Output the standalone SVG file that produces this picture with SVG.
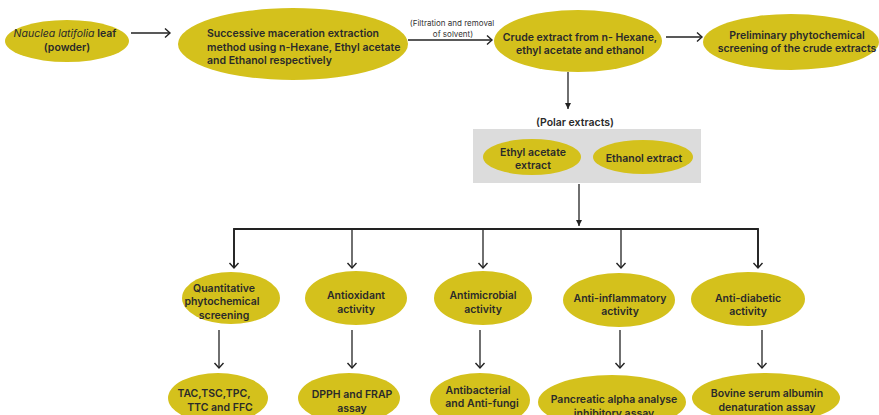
<svg xmlns="http://www.w3.org/2000/svg" width="879" height="415" viewBox="0 0 879 415">
<defs>
<marker id="chev" markerWidth="12" markerHeight="12" refX="6" refY="6" orient="auto" markerUnits="userSpaceOnUse">
<path d="M1,1.5 L6,6 L1,10.5" fill="none" stroke="#222" stroke-width="1.4"/>
</marker>
<marker id="tri" markerWidth="8" markerHeight="8" refX="6" refY="4" orient="auto" markerUnits="userSpaceOnUse">
<path d="M0,1 L6,4 L0,7 Z" fill="#222"/>
</marker>
</defs>
<style>
.n{fill:#D4C11C;}
.t{font-family:Inter,"Liberation Sans",sans-serif;font-size:10.5px;font-weight:600;fill:#2a2a2a;text-anchor:middle;}
.s{font-family:Inter,"Liberation Sans",sans-serif;font-size:8px;font-weight:400;fill:#333;text-anchor:middle;}
.c{fill:none;stroke:#222;stroke-width:1.3;}
.a{marker-end:url(#chev);}
.f{marker-end:url(#tri);}
</style>
<rect width="879" height="415" fill="#fff"/>
<g id="connectors">
<line class="c a" x1="131" y1="33" x2="170" y2="33"/>
<line class="c a" x1="408" y1="40" x2="492" y2="40"/>
<line class="c a" x1="666" y1="37" x2="702" y2="37"/>
<line class="c f" x1="568" y1="72" x2="568" y2="109"/>
<line class="c f" x1="579" y1="184" x2="579" y2="226"/>
<polyline class="c" style="stroke-width:1.8" points="234,268 234,229 758,229 758,268"/>
<line class="c a" x1="234" y1="229" x2="234" y2="268"/>
<line class="c a" x1="352" y1="229" x2="352" y2="268"/>
<line class="c a" x1="483" y1="229" x2="483" y2="268"/>
<line class="c a" x1="621" y1="229" x2="621" y2="268"/>
<line class="c a" x1="758" y1="229" x2="758" y2="268"/>
<line class="c a" x1="219" y1="330" x2="219" y2="368"/>
<line class="c a" x1="352" y1="330" x2="352" y2="368"/>
<line class="c a" x1="480" y1="330" x2="480" y2="368"/>
<line class="c a" x1="620" y1="330" x2="620" y2="368"/>
<line class="c a" x1="762" y1="330" x2="762" y2="368"/>
</g>
<g id="filtration-label">
<text class="s" x="452" y="26">(Filtration and removal</text>
<text class="s" x="453" y="37">of solvent)</text>
</g>
<g id="n-leaf">
<ellipse class="n" cx="67" cy="41" rx="62" ry="21"/>
<text class="t" x="65" y="37"><tspan font-style="italic" font-weight="400">Nauclea latifolia</tspan> leaf</text>
<text class="t" x="67" y="51">(powder)</text>
</g>
<g id="n-maceration">
<ellipse class="n" cx="293" cy="44" rx="115" ry="36"/>
<text class="t" style="text-anchor:start" x="207" y="37">Successive maceration extraction</text>
<text class="t" style="text-anchor:start" x="207" y="51">method using  n-Hexane, Ethyl acetate</text>
<text class="t" style="text-anchor:start" x="207" y="64">and Ethanol respectively</text>
</g>
<g id="n-crude">
<ellipse class="n" cx="578" cy="41" rx="84" ry="31"/>
<text class="t" x="580" y="41">Crude extract from n- Hexane,</text>
<text class="t" x="580" y="54">ethyl acetate and ethanol</text>
</g>
<g id="n-preliminary">
<ellipse class="n" cx="791" cy="42" rx="88" ry="28"/>
<text class="t" x="797" y="39">Preliminary phytochemical</text>
<text class="t" x="797" y="52">screening of the crude extracts</text>
</g>
<g id="n-polar">
<text class="t" x="575" y="126">(Polar extracts)</text>
<rect x="473" y="129" width="228" height="54" fill="#dcdcdc"/>
</g>
<g id="n-ethylacetate">
<ellipse class="n" cx="532" cy="157" rx="49" ry="18"/>
<text class="t" x="533" y="156">Ethyl acetate</text>
<text class="t" x="533" y="169">extract</text>
</g>
<g id="n-ethanol">
<ellipse class="n" cx="643" cy="157" rx="50" ry="17"/>
<text class="t" x="644" y="162">Ethanol  extract</text>
</g>
<g id="n-quantitative">
<ellipse class="n" cx="231" cy="298" rx="49" ry="26"/>
<text class="t" x="224" y="292">Quantitative</text>
<text class="t" x="222" y="305">phytochemical</text>
<text class="t" x="224" y="319">screening</text>
</g>
<g id="n-antioxidant">
<ellipse class="n" cx="356" cy="298" rx="51" ry="27"/>
<text class="t" x="356" y="299">Antioxidant</text>
<text class="t" x="356" y="313">activity</text>
</g>
<g id="n-antimicrobial">
<ellipse class="n" cx="483" cy="298" rx="49" ry="27"/>
<text class="t" x="483" y="299">Antimicrobial</text>
<text class="t" x="483" y="313">activity</text>
</g>
<g id="n-antiinflammatory">
<ellipse class="n" cx="619" cy="300" rx="56" ry="27"/>
<text class="t" x="620" y="302">Anti-inflammatory</text>
<text class="t" x="620" y="315">activity</text>
</g>
<g id="n-antidiabetic">
<ellipse class="n" cx="748" cy="299" rx="57" ry="27"/>
<text class="t" x="748" y="302">Anti-diabetic</text>
<text class="t" x="748" y="315">activity</text>
</g>
<g id="n-tac">
<ellipse class="n" cx="218" cy="398" rx="50" ry="25"/>
<text class="t" x="214" y="397">TAC,TSC,TPC,</text>
<text class="t" x="220" y="411">TTC and FFC</text>
</g>
<g id="n-dpph">
<ellipse class="n" cx="349" cy="398" rx="51" ry="25"/>
<text class="t" x="352" y="398">DPPH and FRAP</text>
<text class="t" x="352" y="412">assay</text>
</g>
<g id="n-antibacterial">
<ellipse class="n" cx="480" cy="400" rx="50" ry="27"/>
<text class="t" x="478" y="394">Antibacterial</text>
<text class="t" x="482" y="407">and Anti-fungi</text>
</g>
<g id="n-pancreatic">
<ellipse class="n" cx="612" cy="402" rx="74" ry="27"/>
<text class="t" x="614" y="403">Pancreatic alpha analyse</text>
<text class="t" x="614" y="417">inhibitory assay</text>
</g>
<g id="n-bovine">
<ellipse class="n" cx="766" cy="398" rx="74" ry="25"/>
<text class="t" x="767" y="397">Bovine serum albumin</text>
<text class="t" x="767" y="411">denaturation assay</text>
</g>
</svg>
